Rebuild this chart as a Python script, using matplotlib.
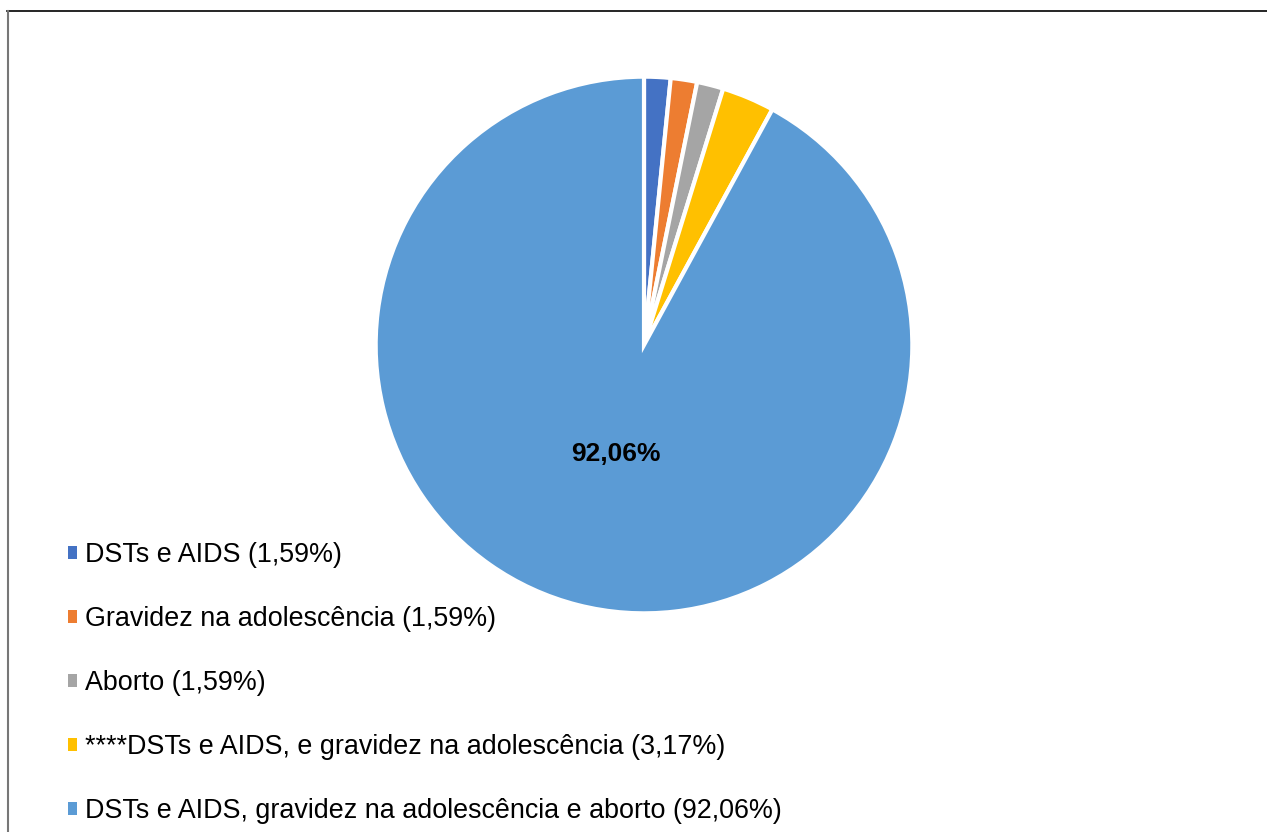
import matplotlib.pyplot as plt
from matplotlib.lines import Line2D
from matplotlib.patches import Patch

plt.rcParams['font.family'] = ['Liberation Sans', 'DejaVu Sans']

labels = ["DSTs e AIDS (1,59%)",
          "Gravidez na adolescência (1,59%)",
          "Aborto (1,59%)",
          "****DSTs e AIDS, e gravidez na adolescência (3,17%)",
          "DSTs e AIDS, gravidez na adolescência e aborto (92,06%)"]
values = [1.59, 1.59, 1.59, 3.17, 92.06]
colors = ["#4472C4", "#ED7D31", "#A5A5A5", "#FFC000", "#5B9BD5"]

W, H = 1267, 832
fig = plt.figure(figsize=(W / 100, H / 100), dpi=100)

# pie centred at (644, 345) px, radius 267 px
ax = fig.add_axes([377 / W, (H - 612) / H, 534 / W, 534 / H])


def pct(p):
    return f"{p:.2f}%".replace(".", ",") if p > 50 else ""


wedges, texts, autotexts = ax.pie(values, colors=colors, startangle=90, counterclock=False,
                                  autopct=pct, pctdistance=0.42, radius=1.005,
                                  wedgeprops=dict(edgecolor="white", linewidth=3))
for t in autotexts:
    t.set_fontsize(19)
    t.set_fontweight("bold")
ax.set_xlim(-1, 1)
ax.set_ylim(-1, 1)

handles = [Patch(facecolor=c, edgecolor="none") for c in colors]
fig.legend(handles, labels, loc="lower left", bbox_to_anchor=(57 / W, -3 / H),
           frameon=False, fontsize=19.4, handlelength=0.35, handleheight=0.35,
           handletextpad=0.3, labelspacing=1.41, borderaxespad=0)

# frame lines (top and left only visible)
fig.add_artist(Line2D([7 / W, 1], [1 - 11 / H, 1 - 11 / H], color="black", lw=1.2))
fig.add_artist(Line2D([7.5 / W, 7.5 / W], [0, 1 - 11 / H], color="#777777", lw=1.5))

fig.savefig("out.png", dpi=100)
